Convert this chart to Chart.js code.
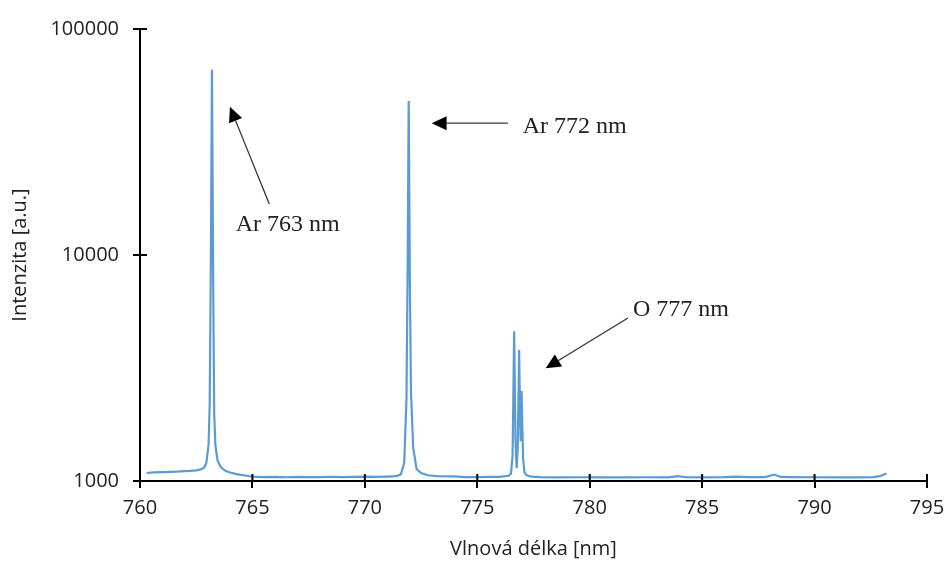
<!DOCTYPE html>
<html>
<head>
<meta charset="utf-8">
<script src="https://cdn.jsdelivr.net/npm/chart.js@4.4.0/dist/chart.umd.min.js"></script>
<style>
    body { margin: 0; background: #fff; }
    #wrap { width: 949px; height: 565px; }
</style>
</head>
<body>
<div id="wrap"><canvas id="spectrumChart" width="949" height="565"></canvas></div>
<script>
// spectrum (wavelength nm / intensity a.u.)
const wavelength = [
    760.3, 760.6, 761.0, 761.4, 761.8, 762.2, 762.5, 762.7, 762.85, 762.95,
    763.05, 763.1, 763.15, 763.2, 763.25, 763.3, 763.35, 763.45, 763.6, 763.8,
    764.0, 764.3, 764.6, 765.0, 765.5, 766.0, 766.5, 767.0, 767.5, 768.0,
    768.5, 769.0, 769.5, 770.0, 770.5, 771.0, 771.4, 771.6, 771.75, 771.85,
    771.9, 771.95, 772.0, 772.05, 772.15, 772.3, 772.5, 772.8, 773.2, 773.9,
    774.5, 775.0, 775.5, 776.0, 776.4, 776.5, 776.57, 776.64, 776.7, 776.75,
    776.8, 776.86, 776.9, 776.93, 776.97, 777.0, 777.04, 777.1, 777.2, 777.4,
    777.8, 778.5, 779.5, 780.5, 781.5, 782.5, 783.5, 783.9, 784.3, 785.0,
    786.0, 786.5, 787.0, 787.8, 788.2, 788.5, 789.0, 790.0, 791.0, 792.0,
    792.6, 792.9, 793.2
];
const intensity = [
    1085, 1092, 1095, 1098, 1102, 1108, 1115, 1125, 1145, 1200,
    1450, 2200, 9000, 66000, 9000, 2000, 1450, 1230, 1150, 1110,
    1090, 1072, 1060, 1046, 1040, 1042, 1039, 1043, 1040, 1041,
    1044, 1040, 1043, 1045, 1042, 1046, 1050, 1070, 1200, 2300,
    8000, 48000, 8000, 2500, 1400, 1130, 1085, 1060, 1050, 1048,
    1040, 1040, 1042, 1043, 1055, 1080, 1300, 4600, 1500, 1140,
    1400, 3800, 2000, 1500, 2500, 1800, 1250, 1090, 1060, 1045,
    1040, 1038, 1039, 1037, 1038, 1039, 1038, 1050, 1039, 1038,
    1041, 1046, 1040, 1040, 1068, 1042, 1040, 1039, 1038, 1038,
    1040, 1050, 1080
];
const yTicks = [1000, 10000, 100000];

// annotations: label, text anchor, arrow tail, arrow tip (data coords)
const noteLabels = ['Ar 763 nm', 'Ar 772 nm', 'O 777 nm'];
const noteText = [[764.26, 13590], [777.02, 36800], [781.92, 5715]];
const noteTail = [[765.75, 16820], [776.36, 38300], [781.70, 5260]];
const noteTip = [[764.00, 45300], [772.97, 38300], [778.04, 3154]];

const annotationPlugin = {
    id: 'arrows',
    afterDatasetsDraw(chart) {
        const { ctx, scales: { x, y } } = chart;
        ctx.save();
        ctx.font = '24px "Liberation Serif", "Times New Roman", serif';
        ctx.textBaseline = 'middle';
        noteLabels.forEach((label, i) => {
            ctx.fillStyle = '#222';
            ctx.fillText(label, x.getPixelForValue(noteText[i][0]), y.getPixelForValue(noteText[i][1]));

            const x0 = x.getPixelForValue(noteTail[i][0]);
            const y0 = y.getPixelForValue(noteTail[i][1]);
            const x1 = x.getPixelForValue(noteTip[i][0]);
            const y1 = y.getPixelForValue(noteTip[i][1]);
            const ang = Math.atan2(y1 - y0, x1 - x0);
            const headLen = 15, headW = 7;
            const bx = x1 - headLen * Math.cos(ang);
            const by = y1 - headLen * Math.sin(ang);

            ctx.strokeStyle = '#333';
            ctx.lineWidth = 1.3;
            ctx.beginPath();
            ctx.moveTo(x0, y0);
            ctx.lineTo(bx, by);
            ctx.stroke();

            ctx.fillStyle = '#000';
            ctx.beginPath();
            ctx.moveTo(x1, y1);
            ctx.lineTo(bx + headW * Math.sin(ang), by - headW * Math.cos(ang));
            ctx.lineTo(bx - headW * Math.sin(ang), by + headW * Math.cos(ang));
            ctx.closePath();
            ctx.fill();
        });
        ctx.restore();
    },
    afterDraw(chart) {
        // inner half of the crossing tick marks
        const { ctx, chartArea, scales: { x, y } } = chart;
        ctx.save();
        ctx.strokeStyle = '#000';
        ctx.lineWidth = 2;
        ctx.beginPath();
        x.ticks.forEach(t => {
            const px = x.getPixelForValue(t.value);
            ctx.moveTo(px, chartArea.bottom);
            ctx.lineTo(px, chartArea.bottom - 7);
        });
        yTicks.forEach(v => {
            const py = y.getPixelForValue(v);
            ctx.moveTo(chartArea.left, py);
            ctx.lineTo(chartArea.left + 7, py);
        });
        ctx.stroke();
        ctx.restore();
    }
};

const axisFont = { family: '"Open Sans", "Noto Sans", sans-serif', size: 20 };

new Chart(document.getElementById('spectrumChart').getContext('2d'), {
    type: 'line',
    data: {
        datasets: [{
            data: wavelength.map((w, i) => ({ x: w, y: intensity[i] })),
            borderColor: 'rgb(91, 155, 213)',
            borderWidth: 2.2,
            pointRadius: 0,
            tension: 0,
            fill: false
        }]
    },
    options: {
        responsive: false,
        animation: false,
        layout: { padding: { top: 29, right: 22, left: 0, bottom: 0 } },
        plugins: {
            legend: { display: false },
            tooltip: { enabled: false }
        },
        scales: {
            x: {
                type: 'linear',
                min: 760,
                max: 795,
                afterFit: scale => {
                    scale.height = 84;
                    scale.paddingLeft = 0;
                    scale.paddingRight = 0;
                },
                ticks: { stepSize: 5, color: '#222', font: axisFont, padding: 8, maxRotation: 0 },
                grid: { drawOnChartArea: false, tickLength: 7, color: '#000', lineWidth: 2 },
                border: { color: '#000', width: 2 },
                title: { display: true, text: 'Vlnová délka [nm]', color: '#222', font: axisFont, padding: { top: 8 } }
            },
            y: {
                type: 'logarithmic',
                min: 1000,
                max: 100000,
                afterFit: scale => { scale.width = 140; },
                afterBuildTicks: scale => { scale.ticks = yTicks.map(v => ({ value: v })); },
                ticks: { color: '#222', font: axisFont, padding: 14, callback: v => String(v) },
                grid: { drawOnChartArea: false, tickLength: 7, color: '#000', lineWidth: 2 },
                border: { color: '#000', width: 2 },
                title: { display: true, text: 'Intenzita [a.u.]', color: '#222', font: axisFont, padding: { top: 8, bottom: 0 } }
            }
        }
    },
    plugins: [annotationPlugin]
});
</script>
</body>
</html>
